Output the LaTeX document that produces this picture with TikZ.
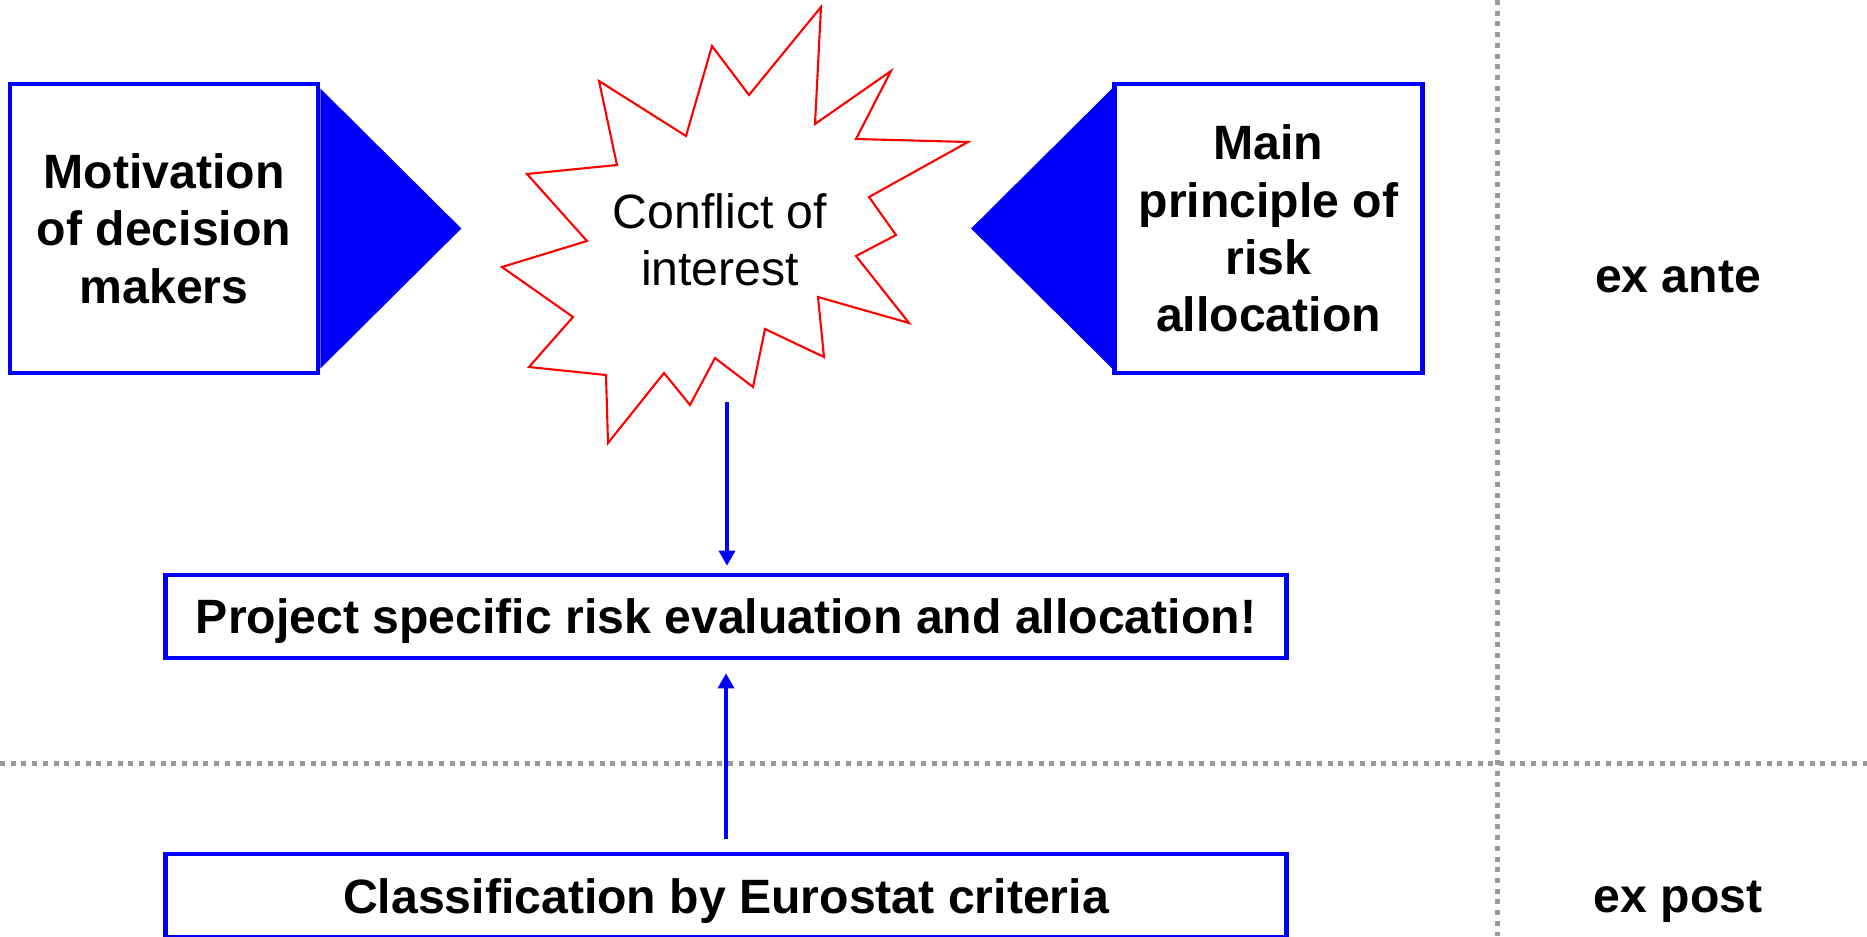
\documentclass[tikz,border=0pt]{standalone}
\usepackage{fontspec}
\setmainfont{Liberation Sans}
\usetikzlibrary{arrows.meta, positioning, calc}

\begin{document}
\begin{tikzpicture}[
    x=0.01cm, y=-0.01cm,
    box/.style={rectangle, draw=blue, line width=0.045cm, align=center, inner sep=0pt, font=\fontsize{13.7}{16.3}\selectfont\bfseries},
    sidebox/.style={box, minimum width=3.08cm, minimum height=2.89cm},
    widebox/.style={box, minimum width=11.2cm, minimum height=0.83cm, text depth=0pt},
    pointer/.style={fill=blue},
    burst/.style={draw=red, line width=0.6pt, fill=white, line join=miter},
    arrow/.style={-{Triangle[length=0.15cm, width=0.16cm]}, blue, line width=0.033cm},
    divider/.style={black!40, line width=0.05cm, dash pattern=on 0.05cm off 0.057cm},
    phase/.style={anchor=base, font=\fontsize{13.7}{16.3}\selectfont\bfseries}
]
\useasboundingbox (0,0) rectangle (1867,936);

% Dividers
\draw[divider] (1497,0) -- (1497,936);
\draw[divider] (0,763) -- (1867,763);

% Conflict burst
\draw[burst] (821,7) -- (815,124) -- (891,71) -- (856,139) -- (968,142) -- (869,197)
    -- (896,235) -- (856,256) -- (909,323) -- (818,297) -- (824,357) -- (765,329)
    -- (753,387) -- (715,358) -- (690,405) -- (664,373) -- (608,443) -- (606,375)
    -- (529,367) -- (573,317) -- (502,267) -- (587,241) -- (527,174) -- (617,165)
    -- (599,81) -- (686,136) -- (712,46) -- (749,95) -- cycle;

% Nodes
\node[sidebox] (motiv) at (164,228.5) {Motivation\\of decision\\makers};
\node[sidebox] (mainpr) at (1268.5,228.5) {Main\\principle of\\risk\\allocation};
\node[align=center, font=\fontsize{13.7}{16.3}\selectfont] (conflict) at (720,240) {Conflict of\\interest};
\node[widebox] (project) at (726,616.5) {Project specific risk evaluation and allocation!};
\node[widebox, below=1.915cm of project] (classif) {Classification by Eurostat criteria};
\coordinate (burstfoot) at (727,402);

% Phases
\node[phase] (exante) at (1678,292) {ex ante};
\node[phase] (expost) at (1678,912) {ex post};

% Pointers
\fill[pointer] (motiv.east) ++(0,-140) -- ++(141,140) -- ++(-141,140) -- cycle;
\fill[pointer] (mainpr.west) ++(0,-140) -- ++(-141,140) -- ++(141,140) -- cycle;

% Arrows
\draw[arrow, shorten >=0.07cm] (burstfoot) -- (burstfoot |- project.north);
\draw[arrow, shorten <=0.13cm, shorten >=0.13cm] (classif.north) -- (project.south);

\end{tikzpicture}
\end{document}
